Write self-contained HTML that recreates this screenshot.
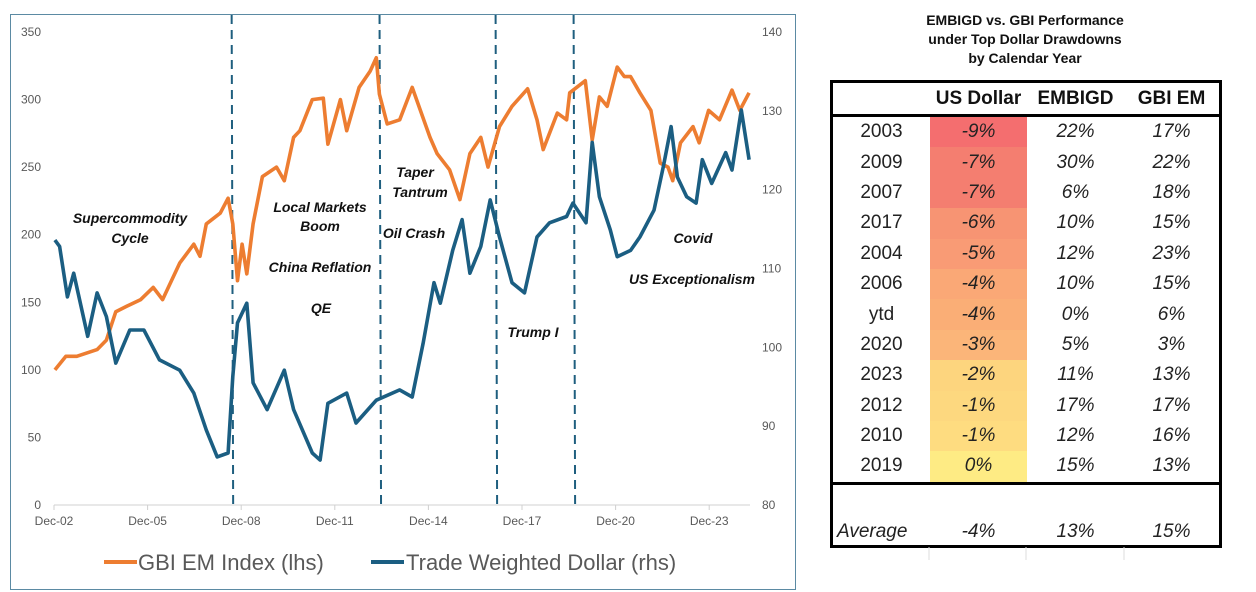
<!DOCTYPE html>
<html><head><meta charset="utf-8">
<style>
body{margin:0;width:1256px;height:592px;background:#fff;overflow:hidden;font-family:"Liberation Sans",sans-serif;}
#wrap{position:relative;width:1256px;height:592px;}
.ann{font-weight:bold;font-style:italic;font-size:14px;fill:#111;text-anchor:middle;}
.tick{font-size:12px;fill:#595959;}
.tt{position:absolute;left:840px;width:370px;top:11px;text-align:center;font-weight:bold;font-size:14px;line-height:19px;color:#111;}
table{position:absolute;left:830px;top:80px;border-collapse:collapse;border:3px solid #000;width:392px;font-size:19px;color:#222;}
td,th{padding:0;height:30.4px;text-align:center;}
th{font-weight:bold;height:31px;border-bottom:3px solid #000;color:#111;}
td.v{font-style:italic;}
tr.avg td{height:58px;vertical-align:bottom;padding-bottom:2px;border-top:3px solid #000;}
</style></head><body>
<div id="wrap">
<svg id="chart" width="800" height="592" style="position:absolute;left:0;top:0"></svg>
<div class="tt">EMBIGD vs. GBI Performance<br>under Top Dollar Drawdowns<br>by Calendar Year</div>
<table>
<tr><th style="width:97px"></th><th style="width:97px">US Dollar</th><th style="width:97px">EMBIGD</th><th>GBI EM</th></tr>
<tbody id="tb"></tbody>
<tr class="avg"><td style="font-style:italic;text-align:left;padding-left:4px">Average</td><td class="v">-4%</td><td class="v">13%</td><td class="v">15%</td></tr>
</table>
<svg width="1256" height="592" style="position:absolute;left:0;top:0;pointer-events:none">
<line x1="929" y1="547" x2="929" y2="560" stroke="#ddd"/><line x1="1026" y1="547" x2="1026" y2="560" stroke="#ddd"/><line x1="1124" y1="547" x2="1124" y2="560" stroke="#ddd"/>
</svg>
</div>
<script>
const years=["2003","2009","2007","2017","2004","2006","ytd","2020","2023","2012","2010","2019"];
const usd=["-9%","-7%","-7%","-6%","-5%","-4%","-4%","-3%","-2%","-1%","-1%","0%"];
const embi=["22%","30%","6%","10%","12%","10%","0%","5%","11%","17%","12%","15%"];
const gbi=["17%","22%","18%","15%","23%","15%","6%","3%","13%","17%","16%","13%"];
const heat=["#F46E6F","#F47E70","#F47E70","#F79473","#F99B75","#FAA876","#FAAE76","#FBB579","#FDD57E","#FDD87F","#FEDC80","#FEEB84"];
const tb=document.getElementById('tb');
years.forEach((y,i)=>{
  const tr=document.createElement('tr');
  
  
  tr.innerHTML='<td>'+y+'</td><td class="v" style="background:'+heat[i]+'">'+usd[i]+'</td><td class="v">'+embi[i]+'</td><td class="v">'+gbi[i]+'</td>';
  tb.appendChild(tr);
});

const gbiT=[2002.95,2003.3,2003.65,2004.3,2004.6,2004.9,2005.25,2005.7,2006.1,2006.4,2006.95,2007.4,2007.6,2007.8,2008.25,2008.5,2008.65,2008.8,2008.95,2009.1,2009.3,2009.6,2010.05,2010.3,2010.6,2010.8,2011.2,2011.55,2011.7,2012.1,2012.3,2012.7,2013.05,2013.25,2013.35,2013.6,2014.0,2014.4,2014.97,2015.2,2015.6,2015.93,2016.25,2016.6,2016.83,2017.2,2017.6,2018.1,2018.4,2018.6,2019.05,2019.35,2019.45,2019.95,2020.17,2020.4,2020.65,2020.97,2021.2,2021.4,2021.7,2022.05,2022.35,2022.6,2022.75,2023.0,2023.4,2023.6,2023.9,2024.25,2024.65,2024.9,2025.2];
const gbiV=[100,110,110,115,122,143,147,152,161,152,179,193,184,208,216,227,208,166,193,171,208,243,250,240,272,277,300,301,267,300,277,309,321,331,304,282,285,309,272,260,248,226,260,272,250,280,295,308,285,263,290,285,305,314,270,302,295,324,317,317,305,292,253,250,240,268,280,268,292,285,307,292,305];
const usdT=[2002.95,2003.1,2003.35,2003.55,2004.0,2004.3,2004.6,2004.9,2005.35,2005.8,2006.3,2006.95,2007.4,2007.8,2008.15,2008.5,2008.65,2008.8,2009.1,2009.3,2009.75,2010.3,2010.6,2011.2,2011.45,2011.7,2012.3,2012.6,2013.25,2014.0,2014.4,2014.75,2015.1,2015.3,2015.7,2016.0,2016.25,2016.6,2016.9,2017.2,2017.6,2018.0,2018.4,2018.8,2019.35,2019.55,2019.97,2020.17,2020.4,2020.75,2020.97,2021.4,2021.7,2022.15,2022.45,2022.7,2022.9,2023.2,2023.5,2023.7,2024.0,2024.45,2024.65,2024.95,2025.2];
const usdV=[113.6,112.8,106.4,109.4,101.4,106.9,103.9,98,102.2,102.2,98.4,97.1,94.2,89.5,86.1,86.6,96.3,103.1,105.6,95.5,92.1,97.1,92.1,86.6,85.7,92.9,94.2,90.4,93.3,94.6,93.7,100.5,108.2,105.6,112.3,116.2,109.4,112.8,118.7,114,108.2,106.9,114,115.8,116.6,118.3,115.8,126,119.1,114.9,111.5,112.3,114,117.4,122.9,128,121.6,119.1,118.3,123.8,120.8,124.7,122.5,130.1,123.8];
const lTicks=[0,50,100,150,200,250,300,350];
const rTicks=[80,90,100,110,120,130,140];
const xTicks=["Dec-02","Dec-05","Dec-08","Dec-11","Dec-14","Dec-17","Dec-20","Dec-23"];
const events=[2008.63,2013.37,2017.09,2019.59];

const svg=document.getElementById('chart');
const NS='http://www.w3.org/2000/svg';
const X=t=>54+(t-2002.92)*31.2;
const YL=v=>505-v*473/350;
const YR=v=>505-(v-80)*473/60;
function mk(tag,attrs,txt){const e=document.createElementNS(NS,tag);for(const k in attrs)e.setAttribute(k,attrs[k]);if(txt!==undefined)e.textContent=txt;svg.appendChild(e);return e;}

let f=mk('rect',{x:10.5,y:14.5,width:785,height:575,fill:'none',stroke:'#5b8aa3','stroke-width':1});


let ax=mk('line',{x1:54,y1:505,x2:750,y2:505,stroke:'#d0d0d0'});


lTicks.forEach(v=>{let t=mk('text',{x:41,y:YL(v)+4,class:'tick','text-anchor':'end'},v);

});
rTicks.forEach(v=>{let t=mk('text',{x:762,y:YR(v)+4,class:'tick'},v);

});
xTicks.forEach((s,i)=>{const x=X(2002.92+3*i);
mk('line',{x1:x,y1:505,x2:x,y2:510,stroke:'#d0d0d0'});
let t=mk('text',{x:x,y:525,class:'tick','text-anchor':'middle'},s);

});
events.forEach((e,i)=>{let l=mk('line',{x1:X(e)-0.5,y1:15,x2:X(e)+1,y2:505,stroke:'#1F5F7F','stroke-width':2,'stroke-dasharray':'9 6'});

});
function path(T,V,Y,c,name){let d=T.map((t,i)=>(i?'L':'M')+X(t).toFixed(1)+','+Y(V[i]).toFixed(1)).join('');
let p=mk('path',{d:d,fill:'none',stroke:c,'stroke-width':3.6,'stroke-linejoin':'round'});

}
path(gbiT,gbiV,YL,'#ED7D31','gbi-em-line');
path(usdT,usdV,YR,'#1B5E82','trade-weighted-dollar-line');
const anns=[["Supercommodity",130,223],["Cycle",130,243],["Local Markets",320,212],["Boom",320,231],["China Reflation",320,272],["QE",321,313],["Taper",415,177],["Tantrum",420,197],["Oil Crash",414,238],["Trump I",533,337],["Covid",693,243],["US Exceptionalism",692,284]];
anns.forEach(a=>{let t=mk('text',{x:a[1],y:a[2],class:'ann'},a[0]);

});
mk('line',{x1:104,y1:562,x2:137,y2:562,stroke:'#ED7D31','stroke-width':4});
let lg1=mk('text',{x:138,y:570,'font-size':22,fill:'#595959'},'GBI EM Index (lhs)');


mk('line',{x1:371,y1:562,x2:404,y2:562,stroke:'#1B5E82','stroke-width':4});
let lg2=mk('text',{x:406,y:570,'font-size':22,fill:'#595959'},'Trade Weighted Dollar (rhs)');


</script>
</body></html>
